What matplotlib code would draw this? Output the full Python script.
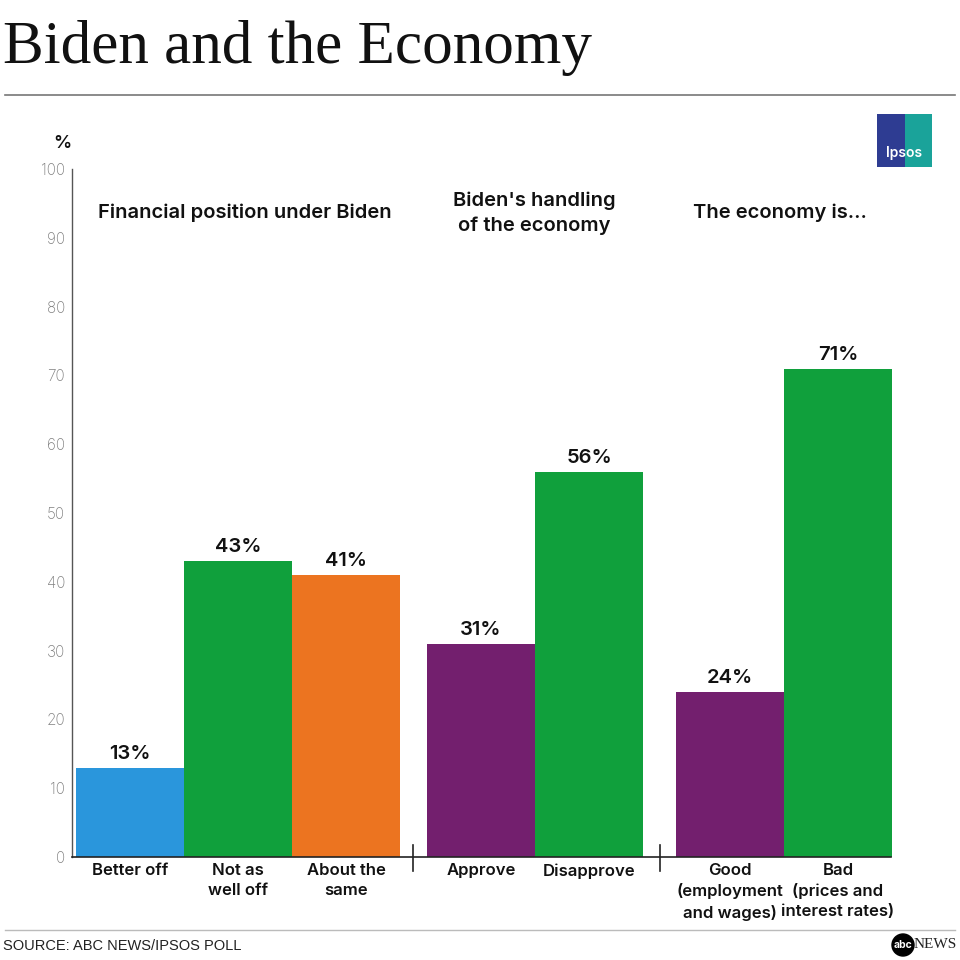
import matplotlib
matplotlib.use("Agg")
import matplotlib.pyplot as plt
from matplotlib.patches import Rectangle, Circle

categories = ["Better off", "Not as\nwell off", "About the\nsame",
              "Approve", "Disapprove",
              "Good\n(employment\nand wages)", "Bad\n(prices and\ninterest rates)"]
values = [13, 43, 41, 31, 56, 24, 71]
colors = ["#2a96dc", "#10a03c", "#ec7420", "#731f6e", "#10a03c", "#731f6e", "#10a03c"]
groups = [0, 0, 0, 1, 1, 2, 2]
group_titles = ["Financial position under Biden", "Biden's handling\nof the economy", "The economy is..."]
yticks = [0, 10, 20, 30, 40, 50, 60, 70, 80, 90, 100]

FONT = ["Inter", "DejaVu Sans"]
plt.rcParams['font.family'] = FONT

fig = plt.figure(figsize=(9.6, 9.6), dpi=100)
W = H = 960.0

def fx(px): return px / W
def fy(py): return 1 - py / H

ax = fig.add_axes([fx(72), fy(857), fx(892) - fx(72), fy(169) - fy(857)])
ax.set_xlim(0, 820)
ax.set_ylim(0, 100)

bw = 108
group_start = [4, 355, 604]
seps = [341, 588]
xs = []
count = {0: 0, 1: 0, 2: 0}
for g in groups:
    xs.append(group_start[g] + bw * count[g] + bw / 2)
    count[g] += 1

ax.bar(xs, values, width=bw, color=colors, linewidth=0)
for x, v in zip(xs, values):
    ax.text(x, v + 0.7, f"{v}%", ha="center", va="bottom", fontsize=14.5,
            fontweight="semibold", color="#111111")
for x, c in zip(xs, categories):
    ax.text(x, -0.9, c, ha="center", va="top", fontsize=12, fontweight="semibold",
            color="#111111", linespacing=1.4)

# group titles
title_pos = [(245, 93.7), (534, 93.6), (780, 93.6)]
for (xp, yp), t in zip(title_pos, group_titles):
    xd = xp - 72
    ax.text(xd, yp, t, ha="center", va="center", fontsize=14.5, fontweight="semibold",
            color="#111111", linespacing=1.42)

for s in seps:
    ax.plot([s, s], [-2, 1.8], color="#222222", lw=1.2, clip_on=False)

for sp in ["top", "right"]:
    ax.spines[sp].set_visible(False)
ax.spines["left"].set_color("#555555")
ax.spines["left"].set_linewidth(1.0)
ax.spines["bottom"].set_color("#222222")
ax.spines["bottom"].set_linewidth(1.2)
ax.spines["bottom"].set_bounds(0, 819)
ax.set_xticks([])
ax.set_yticks(yticks)
ax.tick_params(axis="y", length=0, pad=5, labelsize=11, labelcolor="#808080")
for lab in ax.get_yticklabels():
    lab.set_fontweight("light")

fig.text(fx(62), fy(143), "%", ha="center", va="center", fontsize=13,
         fontweight="semibold", color="#111111")

# title
fig.text(fx(3), fy(48), "Biden and the Economy", ha="left", va="center",
         fontsize=44, family=["Liberation Serif"], color="#111111")
fig.add_artist(plt.Line2D([fx(5), fx(955)], [fy(95), fy(95)], color="#777777", lw=1.2))
fig.add_artist(plt.Line2D([fx(5), fx(955)], [fy(930), fy(930)], color="#bbbbbb", lw=1.0))
fig.text(fx(3), fy(946), "SOURCE: ABC NEWS/IPSOS POLL", ha="left", va="center",
         fontsize=10.5, color="#222222", family=["Liberation Sans Narrow", "Liberation Sans"])

# Ipsos logo
fig.add_artist(Rectangle((fx(877), fy(167)), fx(905) - fx(877), fy(114) - fy(167),
                         transform=fig.transFigure, color="#2e3c92", lw=0))
fig.add_artist(Rectangle((fx(905), fy(167)), fx(932) - fx(905), fy(114) - fy(167),
                         transform=fig.transFigure, color="#1aa39a", lw=0))
fig.text(fx(904), fy(153), "Ipsos", ha="center", va="center", fontsize=10,
         fontweight="semibold", color="white")

# abc news logo
fig.add_artist(Circle((fx(903), fy(945)), 11 / W, transform=fig.transFigure, color="black"))
fig.text(fx(903), fy(945), "abc", ha="center", va="center", fontsize=7.5,
         fontweight="bold", color="white")
fig.text(fx(914), fy(945), "NEWS", ha="left", va="center", fontsize=11,
         family=["Liberation Serif"], color="#222222")

fig.savefig("out.png", dpi=100)
